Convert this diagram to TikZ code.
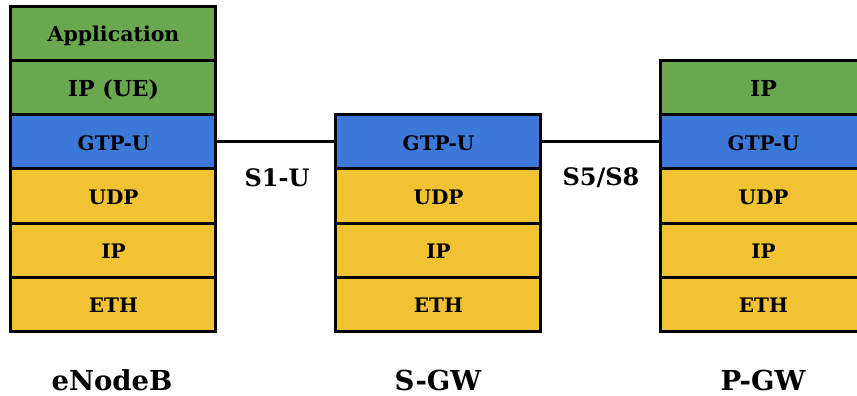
\documentclass[tikz,border=0pt]{standalone}
\usepackage{fontspec}
\setmainfont{DejaVu Serif}
\definecolor{lgreen}{HTML}{6AA84F}
\definecolor{lblue}{HTML}{3C78D8}
\definecolor{lyellow}{HTML}{F1C232}
\tikzset{
  layer/.style={draw=black, line width=3pt, minimum width=205pt, minimum height=54.2pt, inner sep=0pt, outer sep=0pt, font=\bfseries\fontsize{20}{22}\selectfont, anchor=north west, text height=16.6pt, text depth=0pt, execute at begin node={\hspace*{2pt}}},
  big/.style={font=\bfseries\fontsize{22}{24}\selectfont, text height=18pt},
  app/.style={layer, fill=lgreen},
  tun/.style={layer, fill=lblue},
  trn/.style={layer, fill=lyellow},
  link/.style={line width=3pt},
  linklbl/.style={font=\bfseries\fontsize{24}{26}\selectfont},
  nodelbl/.style={font=\bfseries\fontsize{27.5}{30}\selectfont}
}
\begin{document}
\begin{tikzpicture}[x=1pt,y=-1pt]
\useasboundingbox (0,0) rectangle (857,396);
\clip (0,0) rectangle (857,396);
% eNodeB
\node[app, font=\bfseries\fontsize{20.5}{22}\selectfont, text height=17pt] (a1) at (10,6.2) {Application};
\node[app, big] (a2) at (10,60.4) {IP (UE)};
\node[tun] (a3) at (10,114.6) {GTP-U};
\node[trn] (a4) at (10,168.8) {UDP};
\node[trn] (a5) at (10,223) {IP};
\node[trn] (a6) at (10,277.2) {ETH};
% S-GW
\node[tun] (b3) at (335,114.6) {GTP-U};
\node[trn] (b4) at (335,168.8) {UDP};
\node[trn] (b5) at (335,223) {IP};
\node[trn] (b6) at (335,277.2) {ETH};
% P-GW
\node[app, big] (c2) at (660,60.4) {IP};
\node[tun] (c3) at (660,114.6) {GTP-U};
\node[trn] (c4) at (660,168.8) {UDP};
\node[trn] (c5) at (660,223) {IP};
\node[trn] (c6) at (660,277.2) {ETH};
% links
\draw[link] (a3.east) -- (b3.west);
\draw[link] (b3.east) -- (c3.west);
\node[linklbl] (l1) at (277,177.5) {S1-U};
\node[linklbl] (l2) at (601,177.5) {S5/S8};
% labels
\node[nodelbl] (n1) at (112,380) {eNodeB};
\node[nodelbl] (n2) at (438,380) {S-GW};
\node[nodelbl] (n3) at (763,380) {P-GW};
\end{tikzpicture}
\end{document}
